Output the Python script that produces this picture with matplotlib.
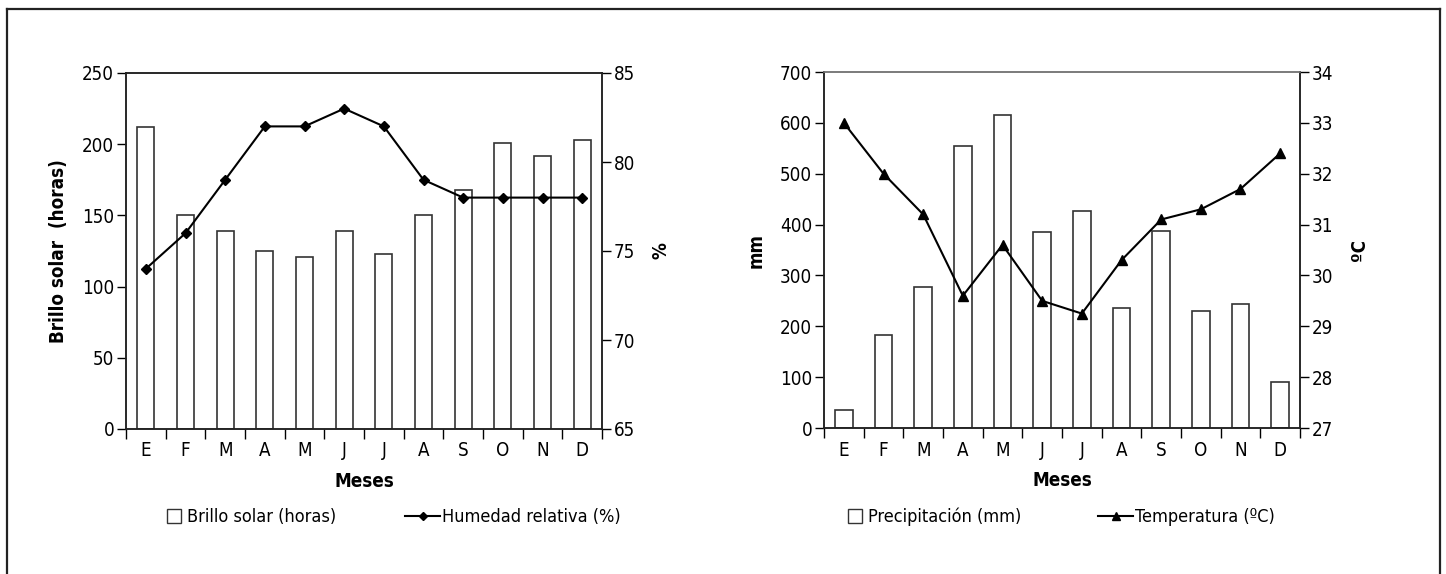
import numpy as np
import matplotlib
matplotlib.use('Agg')
import matplotlib.pyplot as plt
from matplotlib.lines import Line2D

plt.rcParams['font.family'] = ['DejaVu Sans']
plt.rcParams['font.stretch'] = 'condensed'

# data
meses = ['E', 'F', 'M', 'A', 'M', 'J', 'J', 'A', 'S', 'O', 'N', 'D']
brillo = [212, 150, 139, 125, 121, 139, 123, 150, 168, 201, 192, 203]
humedad = [74, 76, 79, 82, 82, 83, 82, 79, 78, 78, 78, 78]
precip = [35, 183, 277, 555, 615, 385, 427, 235, 388, 230, 243, 90]
temp = [33.0, 32.0, 31.2, 29.6, 30.6, 29.5, 29.25, 30.3, 31.1, 31.3, 31.7, 32.4]

FS = 13.5
LFS = 13
W, H = 1446, 574
x = np.arange(len(meses))

fig = plt.figure(figsize=(W / 100, H / 100), dpi=100)

# outer frame (open at the bottom)
fx0, fx1, fy = 7 / W, 1440 / W, 1 - 9 / H
for xs, ys in [([fx0, fx0], [0, fy]), ([fx0, fx1], [fy, fy]), ([fx1, fx1], [0, fy])]:
    fig.add_artist(Line2D(xs, ys, transform=fig.transFigure, color='#222', lw=1.6))


def panel(rect, bars, line, marker, ms, ylim1, yt1, ylim2, yt2, ylab1, ylab2,
          lab1, lab2, leg1_px, leg2_px, bw, top_col):
    ax = fig.add_axes(rect)
    ax.bar(x, bars, width=bw, color='white', edgecolor='#333', linewidth=1.2, zorder=2)
    ax.set_xlim(-0.5, 11.5)
    ax.set_ylim(*ylim1)
    ax.set_yticks(yt1)
    ax.set_xticks(np.arange(-0.5, 12, 1))
    ax.set_xticklabels([])
    ax.set_xticks(x, minor=True)
    ax.set_xticklabels(meses, minor=True)
    ax.tick_params(axis='x', which='major', direction='out', length=7, width=1)
    ax.tick_params(axis='x', which='minor', length=0, pad=9, labelsize=FS)
    ax.tick_params(axis='y', direction='out', length=6.5, width=1, labelsize=FS, pad=2)
    for s in ax.spines.values():
        s.set_linewidth(1.1)
        s.set_color('#222')
    ax.spines['top'].set_color(top_col)
    ax.set_xlabel('Meses', fontsize=FS, fontweight='bold', labelpad=8)
    ax.set_ylabel(ylab1, fontsize=FS, fontweight='bold', labelpad=10)

    ax2 = ax.twinx()
    ax2.plot(x, line, color='black', lw=1.5, marker=marker, ms=ms, zorder=3)
    ax2.set_ylim(*ylim2)
    ax2.set_yticks(yt2)
    ax2.tick_params(axis='y', direction='out', length=6.5, width=1, labelsize=FS, pad=2)
    for s in ax2.spines.values():
        s.set_linewidth(1.1)
        s.set_color('#222')
    ax2.spines['top'].set_color(top_col)
    ax2.set_ylabel(ylab2, fontsize=FS, fontweight='bold', rotation=90, labelpad=12)

    ly = 1 - 517 / H
    h1 = Line2D([], [], ls='none', marker='s', ms=10, mfc='white', mec='#333', mew=1)
    fig.legend([h1], [lab1], loc='center left', bbox_to_anchor=(leg1_px / W, ly),
               frameon=False, fontsize=LFS, handlelength=0.8, handletextpad=0.3,
               borderpad=0, borderaxespad=0)
    h2 = Line2D([], [], color='black', lw=1.5, marker=marker, ms=ms - 0.5)
    fig.legend([h2], [lab2], loc='center left', bbox_to_anchor=(leg2_px / W, ly),
               frameon=False, fontsize=LFS, handlelength=1.95, handletextpad=0.1,
               borderpad=0, borderaxespad=0)
    return ax


panel([126 / W, 1 - 429 / H, 476 / W, 356 / H], brillo, humedad, 'D', 5,
      (0, 250), np.arange(0, 251, 50), (65, 85), np.arange(65, 86, 5),
      'Brillo solar  (horas)', '%', 'Brillo solar (horas)', 'Humedad relativa (%)',
      167, 405, 0.43, '#222')

panel([824 / W, 1 - 428 / H, 476 / W, 356 / H], precip, temp, '^', 6.5,
      (0, 700), np.arange(0, 701, 100), (27, 34), np.arange(27, 35, 1),
      'mm', 'ºC', 'Precipitación (mm)', 'Temperatura (ºC)',
      848, 1098, 0.45, '#777')

plt.savefig('out.png', dpi=100)
